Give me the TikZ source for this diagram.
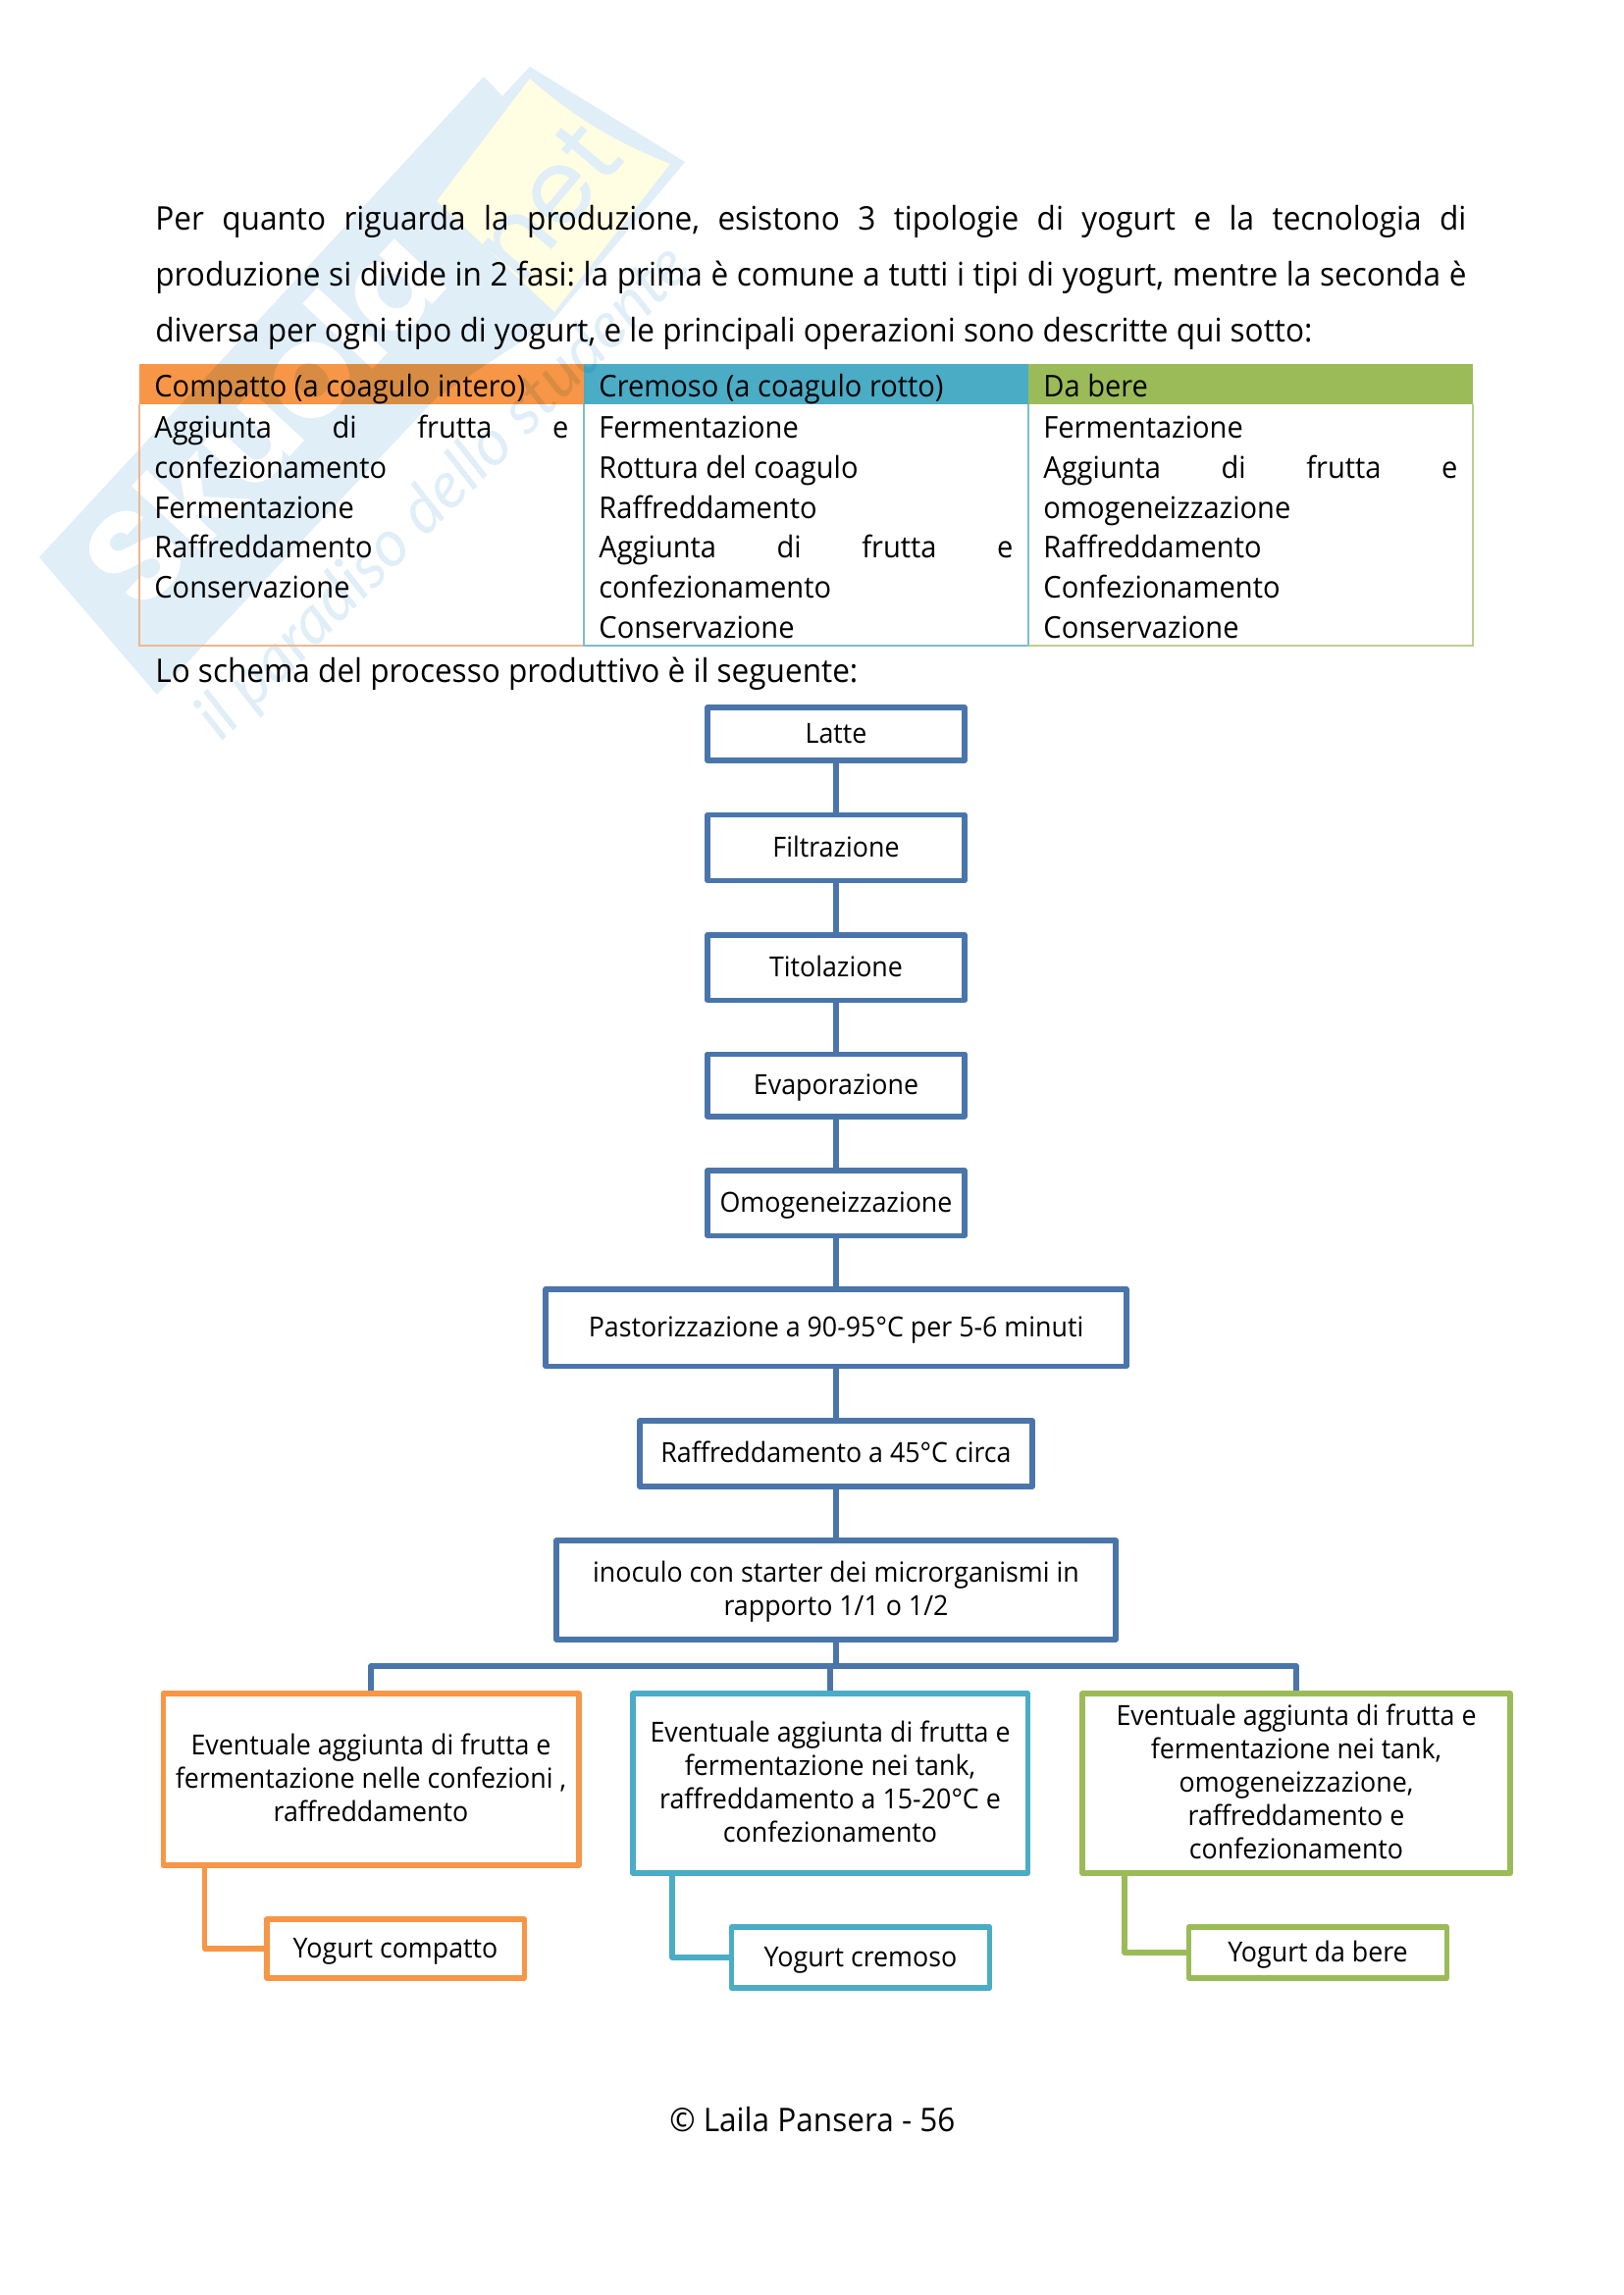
\documentclass[tikz,border=0pt]{standalone}
\usepackage{fontspec}
\setmainfont{Open Sans}[FakeStretch=0.95]
\newfontfamily\wmfont{Poppins}
\newfontfamily\wmit{Lato}
\definecolor{cblue}{HTML}{4A75AB}
\definecolor{corange}{HTML}{F79646}
\definecolor{cteal}{HTML}{4BACC6}
\definecolor{cgreen}{HTML}{9BBB59}
\definecolor{lorange}{HTML}{EDB88E}
\definecolor{lteal}{HTML}{7DBDD0}
\definecolor{lgreen}{HTML}{BBCF8E}
\definecolor{wmblue}{HTML}{DFEEF7}
\definecolor{wmyellow}{HTML}{FFFDE2}
\newcommand{\bodyf}{\fontsize{15.3pt}{20pt}\selectfont}
\newcommand{\parf}{\fontsize{16.6pt}{20pt}\selectfont}
\newcommand{\chartf}{\fontsize{14.1pt}{17pt}\selectfont}
\newcommand{\jline}[2]{\hbox to #1{#2}}
\newcommand{\gap}{\hspace{\fill}}
\newcommand{\topst}{\rule{0pt}{13pt}}
\newcommand{\botst}{\rule[-4pt]{0pt}{4pt}}
\tikzset{
  x=0.5pt,y=-0.5pt,
  sz/.style 2 args={minimum width=#1*0.5pt,minimum height=#2*0.5pt},
  fbox/.style={draw=#1,line width=2.75pt,line join=round,fill=white,inner sep=0pt,align=center,font=\chartf,text=black},
  one/.style={text height=9.3pt,text depth=0pt},
  conn/.style={draw=#1,line width=2.75pt,line join=round},
  txt/.style={anchor=base west,inner sep=0pt,font=\bodyf,text=black},
  ptxt/.style={anchor=base west,inner sep=0pt,font=\parf,text=black},
  tline/.style={line width=0.8pt},
}
\begin{document}
\begin{tikzpicture}
\useasboundingbox (0,0) rectangle (1654,2339);
\fill[white] (0,0) rectangle (1654,2339);
% watermark
\fill[wmblue] (493,78) -- (40,568) -- (160,708) -- (445,405) -- (563,327) -- (698,165) -- (540,68) -- (512,98) -- cycle;
\fill[wmyellow] (540,80) .. controls (590,125) and (640,150) .. (683,167) -- (565,318) -- (445,205) -- cycle;
\node[rotate=47,text=white,inner sep=0pt,font=\wmfont\bfseries\fontsize{66pt}{66pt}\selectfont] (wmname) at (268,425) {Skuola};
\node[rotate=50,text=wmblue,inner sep=0pt,font=\wmfont\fontsize{52pt}{52pt}\selectfont] (wmnet) at (558,205) {net};
\node[rotate=45,text=wmblue,inner sep=0pt,font=\wmit\itshape\fontsize{33pt}{33pt}\selectfont] (wmsub) at (453,503) {il paradiso dello studente};
% table header fills
\begin{scope}[blend mode=multiply]
\fill[corange] (142,371) rectangle (595,412);
\fill[cteal] (595,371) rectangle (1048,412);
\fill[cgreen] (1048,371) rectangle (1501,412);
\end{scope}
% table lines
\draw[tline,lorange] (142,412) -- (142,658) -- (595,658);
\draw[tline,lteal] (595,412) -- (595,658) -- (1048,658) -- (1048,412);
\draw[tline,lgreen] (1048,658) -- (1501,658) -- (1501,412);
% paragraph
\node[ptxt] (p1) at (158,234) {\jline{668pt}{Per\gap quanto\gap riguarda\gap la\gap produzione,\gap esistono\gap 3\gap tipologie\gap di\gap yogurt\gap e\gap la\gap tecnologia\gap di}};
\node[ptxt] (p2) at (158,291) {\jline{668pt}{produzione\gap si\gap divide\gap in\gap 2\gap fasi:\gap la\gap prima\gap è\gap comune\gap a\gap tutti\gap i\gap tipi\gap di\gap yogurt,\gap mentre\gap la\gap seconda\gap è}};
\node[ptxt] (p3) at (158,348.5) {diversa per ogni tipo di yogurt, e le principali operazioni sono descritte qui sotto:};
% table text
\node[txt] (h1) at (157,404.5) {Compatto (a coagulo intero)};
\node[txt] (h2) at (610,404.5) {Cremoso (a coagulo rotto)};
\node[txt] (h3) at (1063,404.5) {Da bere};
\node[txt] (a1) at (157,446) {\jline{211pt}{Aggiunta\gap di\gap frutta\gap e}};
\node[txt] (a2) at (157,487) {confezionamento};
\node[txt] (a3) at (157,528) {Fermentazione};
\node[txt] (a4) at (157,568.5) {Raffreddamento};
\node[txt] (a5) at (157,609) {Conservazione};
\node[txt] (b1) at (610,446) {Fermentazione};
\node[txt] (b2) at (610,487) {Rottura del coagulo};
\node[txt] (b3) at (610,528) {Raffreddamento};
\node[txt] (b4) at (610,568.5) {\jline{211pt}{Aggiunta\gap di\gap frutta\gap e}};
\node[txt] (b5) at (610,609) {confezionamento};
\node[txt] (b6) at (610,650.5) {Conservazione};
\node[txt] (c1t) at (1063,446) {Fermentazione};
\node[txt] (c2t) at (1063,487) {\jline{211pt}{Aggiunta\gap di\gap frutta\gap e}};
\node[txt] (c3t) at (1063,528) {omogeneizzazione};
\node[txt] (c4t) at (1063,568.5) {Raffreddamento};
\node[txt] (c5t) at (1063,609) {Confezionamento};
\node[txt] (c6t) at (1063,650.5) {Conservazione};
\node[ptxt] (ls) at (158,695) {Lo schema del processo produttivo è il seguente:};
% chart boxes
\node[fbox=cblue,one,sz={262}{54}] (latte) at (852,748) {Latte};
\node[fbox=cblue,one,sz={262}{67}] (filt) at (852,864) {Filtrazione};
\node[fbox=cblue,one,sz={262}{66.5}] (tit) at (852,986) {Titolazione};
\node[fbox=cblue,one,sz={262}{63.5}] (eva) at (852,1106) {Evaporazione};
\node[fbox=cblue,one,sz={262}{66.5}] (omo) at (852,1226) {Omogeneizzazione};
\node[fbox=cblue,one,sz={592}{78.5}] (past) at (852,1353) {Pastorizzazione a 90-95°C per 5-6 minuti};
\node[fbox=cblue,one,sz={400}{67}] (raff) at (852,1481.5) {Raffreddamento a 45°C circa};
\node[fbox=cblue,sz={570}{101}] (ino) at (852,1620.5) {\topst inoculo con starter dei microrganismi in\\rapporto 1/1 o 1/2\botst};
\node[fbox=corange,sz={423.5}{175}] (k1) at (378,1813.5) {\topst Eventuale aggiunta di frutta e\\fermentazione nelle confezioni ,\\raffreddamento\botst};
\node[fbox=cteal,sz={402.5}{183}] (k2) at (846,1817.5) {\topst Eventuale aggiunta di frutta e\\fermentazione nei tank,\\raffreddamento a 15-20°C e\\confezionamento\botst};
\node[fbox=cgreen,sz={436}{183}] (k3) at (1321,1817.5) {\topst Eventuale aggiunta di frutta e\\fermentazione nei tank,\\omogeneizzazione,\\raffreddamento e\\confezionamento\botst};
\node[fbox=corange,one,sz={262.5}{60}] (y1) at (403,1986) {Yogurt compatto};
\node[fbox=cteal,one,sz={263}{62}] (y2) at (877,1995) {Yogurt cremoso};
\node[fbox=cgreen,one,sz={263}{52}] (y3) at (1343,1990) {Yogurt da bere};
% connectors
\draw[conn=cblue] (latte) -- (filt);
\draw[conn=cblue] (filt) -- (tit);
\draw[conn=cblue] (tit) -- (eva);
\draw[conn=cblue] (eva) -- (omo);
\draw[conn=cblue] (omo) -- (past);
\draw[conn=cblue] (past) -- (raff);
\draw[conn=cblue] (raff) -- (ino);
\coordinate (bus) at (852,1698);
\draw[conn=cblue] (ino) -- (bus);
\draw[conn=cblue] (k1.north) |- (bus);
\draw[conn=cblue] (k3.north) |- (bus);
\draw[conn=cblue] (k2.north) |- (bus);
\coordinate (o1) at (208.6,1901);
\coordinate (o2) at (685,1909);
\coordinate (o3) at (1145.8,1909);
\draw[conn=corange] (o1) |- (y1.west);
\draw[conn=cteal] (o2) |- (y2.west);
\draw[conn=cgreen] (o3) |- (y3.west);
% footer
\node[ptxt] (foot) at (682,2172.5) {© Laila Pansera - 56};
\end{tikzpicture}
\end{document}
